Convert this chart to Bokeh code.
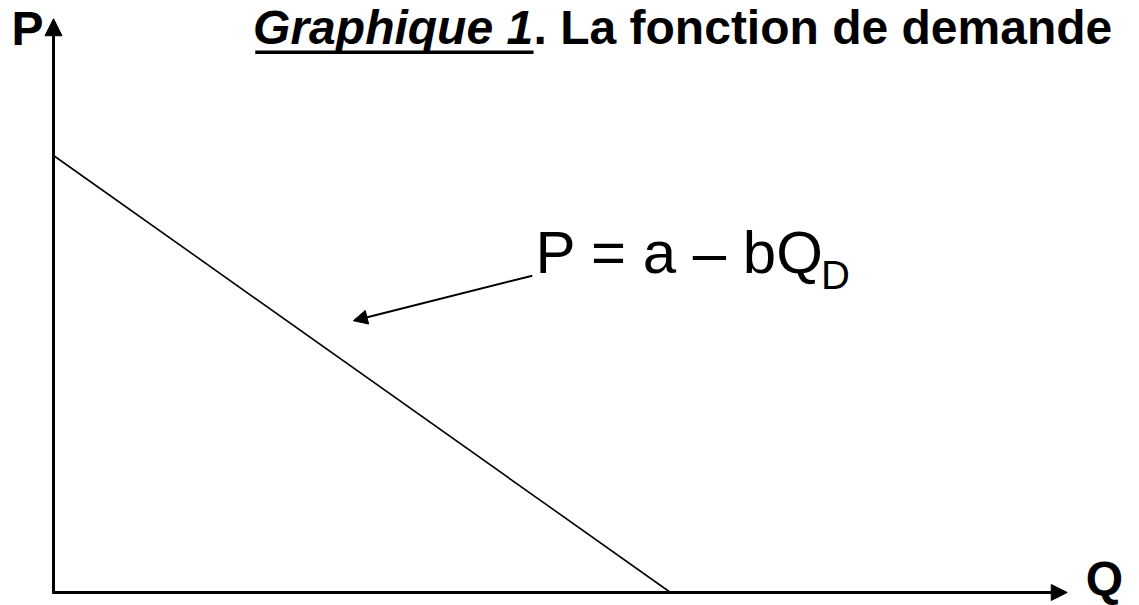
from bokeh.plotting import figure
from bokeh.models import Range1d, Label, Arrow, NormalHead, ColumnDataSource
from bokeh.embed import file_html
from bokeh.resources import INLINE

# --- data (economic units) ---
a = 10.0          # price intercept
b = 1.0           # slope
demand_q = [0.0, a / b]
demand_p = [a, 0.0]
axis_q_end = 16.43   # end of Q axis arrow
axis_p_end = 13.13   # end of P axis arrow
title_part1 = "Graphique 1"
title_part2 = ". La fonction de demande"
equation = "P = a \u2013 bQ"
equation_sub = "D"
label_p = "P"
label_q = "Q"
pointer_start = (7.76, 7.25)
pointer_end = (4.86, 6.22)

FONT = "Liberation Sans"

p = figure(width=1139, height=605, output_backend="svg", toolbar_location=None,
           x_range=Range1d(-0.859, 17.601), y_range=Range1d(-0.2975, 13.547),
           x_axis_location=None, y_axis_location=None, min_border=0,
           background_fill_color="white", border_fill_color="white")
p.grid.visible = False
p.outline_line_color = None

# demand line
src = ColumnDataSource(dict(q=demand_q, p=demand_p))
p.line("q", "p", source=src, line_color="black", line_width=1.6)

# axes with arrow heads
p.add_layout(Arrow(end=NormalHead(size=17, fill_color="black", line_color="black", line_width=1),
                   x_start=0, y_start=0, x_end=0, y_end=axis_p_end,
                   line_color="black", line_width=3))
p.add_layout(Arrow(end=NormalHead(size=16, fill_color="black", line_color="black", line_width=1),
                   x_start=-0.02, y_start=0, x_end=axis_q_end, y_end=0,
                   line_color="black", line_width=3))

# pointer arrow
p.add_layout(Arrow(end=NormalHead(size=14, fill_color="black", line_color="black", line_width=1),
                   x_start=pointer_start[0], y_start=pointer_start[1],
                   x_end=pointer_end[0], y_end=pointer_end[1],
                   line_color="black", line_width=2))

# axis labels
p.add_layout(Label(x=-0.68, y=12.90, text=label_p, text_font=FONT, text_font_size="48px",
                   text_font_style="bold", text_color="black", text_baseline="alphabetic"))
p.add_layout(Label(x=16.73, y=0.318, text=label_q, text_font=FONT, text_font_size="48px",
                   text_font_style="bold", text_color="black", text_baseline="alphabetic"))

# title
p.add_layout(Label(x=3.235, y=12.93, text=title_part1, text_font=FONT, text_font_size="48px",
                   text_font_style="bold italic", text_color="black", text_baseline="alphabetic"))
p.add_layout(Label(x=7.78, y=12.93, text=title_part2, text_font=FONT, text_font_size="48px",
                   text_font_style="bold", text_color="black", text_baseline="alphabetic"))
p.segment(x0=[3.27], y0=[12.36], x1=[7.78], y1=[12.36], line_color="black", line_width=3.5)

# equation
p.add_layout(Label(x=7.81, y=7.785, text=equation, text_font=FONT, text_font_size="60px",
                   text_color="black", text_baseline="alphabetic"))
p.add_layout(Label(x=12.44, y=7.276, text=equation_sub, text_font=FONT, text_font_size="40px",
                   text_color="black", text_baseline="alphabetic"))

open("out.html", "w").write(file_html(p, INLINE))
